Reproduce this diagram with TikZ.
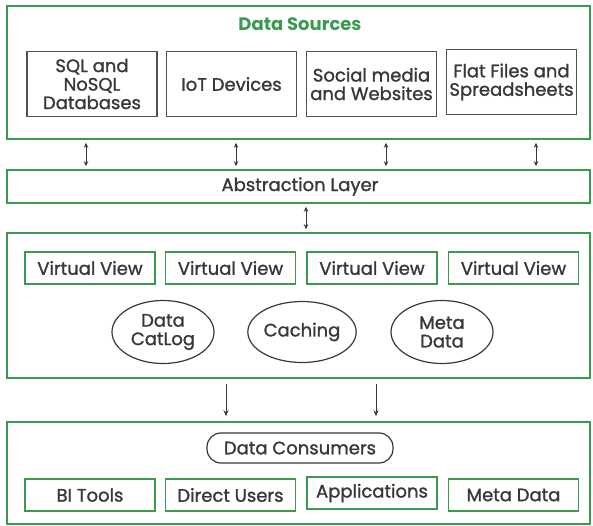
\documentclass[tikz,border=0pt]{standalone}
\usepackage{fontspec}
\setmainfont{Poppins}
\newfontfamily\semib{Poppins}[FakeBold=1.3]
\usetikzlibrary{shapes.geometric,arrows.meta}
\definecolor{ggreen}{HTML}{3A9A4F}
\definecolor{gtext}{HTML}{383838}
\definecolor{gbox}{HTML}{505050}
\newcommand{\tfont}{\semib\fontsize{18}{18.5}\selectfont}
\tikzset{
  layer/.style={draw=ggreen, line width=1.6pt, inner sep=0pt},
  srcbox/.style={draw=gbox, line width=1.6pt, minimum width=130pt, minimum height=65pt, align=center, text=gtext, font=\tfont, inner sep=0pt},
  gbx/.style={draw=ggreen, line width=1.6pt, minimum width=130pt, minimum height=32pt, align=center, text=gtext, font=\tfont, inner sep=0pt},
  ell/.style={ellipse, draw=gtext, line width=1.2pt, align=center, text=gtext, font=\tfont, inner sep=0pt},
  dbl/.style={{Stealth[length=5pt,width=4.5pt]}-{Stealth[length=5pt,width=4.5pt]}, line width=0.9pt, draw=gtext},
  down/.style={-{Stealth[length=6pt,width=5pt]}, line width=0.9pt, draw=gtext},
}
\begin{document}
\begin{tikzpicture}[x=1pt,y=-1pt]
\useasboundingbox (0,0) rectangle (593,525);
% layers
\node[layer, minimum width=583pt, minimum height=133pt] (src) at (298.5,72.5) {};
\node[layer, minimum width=583pt, minimum height=33pt] (abs) at (298.5,186.5) {};
\node[layer, minimum width=583pt, minimum height=145pt] (mid) at (298.5,305.5) {};
\node[layer, minimum width=583pt, minimum height=102pt] (bot) at (298.5,473) {};
% titles
\node[text=ggreen, font=\fontsize{18}{18.5}\selectfont\bfseries] (srct) at (300,24) {Data Sources};
\node[text=gtext, font=\tfont] (abst) at (300,186.5) {Abstraction Layer};
% sources
\node[srcbox] (sql) at (92,84) {SQL and\\NoSQL\\Databases};
\node[srcbox] (iot) at (231.5,84) {IoT Devices};
\node[srcbox] (soc) at (371.5,84) {Social media\\and Websites};
\node[srcbox] (flat) at (511.5,82) {Flat Files and\\Spreadsheets};
% arrows src-abs
\coordinate (a1) at (86,0);
\coordinate (a2) at (236,0);
\coordinate (a3) at (386,0);
\coordinate (a4) at (536,0);
\foreach \a in {a1,a2,a3,a4}
  \draw[dbl, shorten <=3pt, shorten >=3pt] (\a |- src.south) -- (\a |- abs.north);
\coordinate (a5) at (306,0);
\draw[dbl, shorten <=3pt, shorten >=3pt] (a5 |- abs.south) -- (a5 |- mid.north);
% virtual views
\node[gbx] (vv1) at (90,268) {Virtual View};
\node[gbx] (vv2) at (230.5,268) {Virtual View};
\node[gbx] (vv3) at (372,268) {Virtual View};
\node[gbx] (vv4) at (513.5,268) {Virtual View};
\node[ell, minimum width=102pt, minimum height=63pt] (cat) at (163,332) {Data\\CatLog};
\node[ell, minimum width=100pt, minimum height=61pt] (cach) at (302,332) {Caching};
\node[ell, minimum width=102pt, minimum height=63pt] (meta) at (442,332) {Meta\\Data};
% arrows mid-bot
\coordinate (b1) at (226,0);
\coordinate (b2) at (376,0);
\foreach \b in {b1,b2}
  \draw[down, shorten <=5pt, shorten >=5pt] (\b |- mid.south) -- (\b |- bot.north);
% consumers
\node[draw=gtext, line width=1.2pt, rounded corners=14pt, minimum width=186pt, minimum height=30pt, text=gtext, font=\tfont] (cons) at (300,448) {Data Consumers};
\node[gbx] (bi) at (90,495) {BI Tools};
\node[gbx] (du) at (230.5,495) {Direct Users};
\node[gbx] (app) at (372,493) {Applications};
\node[gbx] (md) at (513.5,495) {Meta Data};
\end{tikzpicture}
\end{document}
